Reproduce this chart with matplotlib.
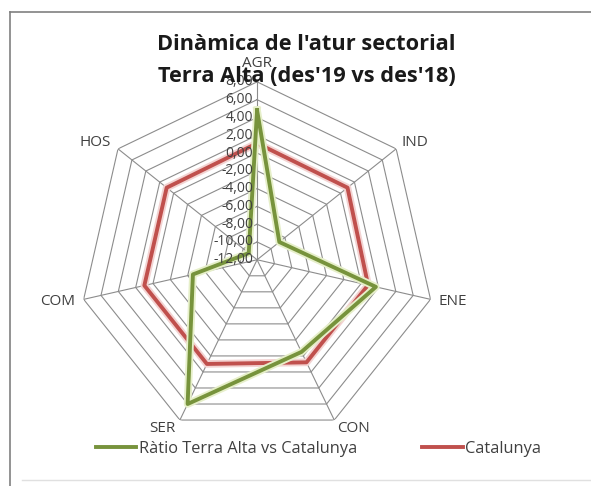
import numpy as np
import matplotlib
matplotlib.use("Agg")
from matplotlib import pyplot as plt
import matplotlib.patheffects as pe
from matplotlib.lines import Line2D

plt.rcParams['font.family'] = ['Open Sans', 'DejaVu Sans']

# data
sectors = ['AGR', 'IND', 'ENE', 'CON', 'SER', 'COM', 'HOS']
ratio_terra_alta = [4.8, -8.8, 1.7, -0.5, 6.0, -4.6, -10.8]
catalunya = [1.1, 1.0, 0.8, 0.8, 1.0, 1.0, 1.0]
ring_values = [-12, -10, -8, -6, -4, -2, 0, 2, 4, 6, 8]
ring_labels = ['-12,00', '-10,00', '-8,00', '-6,00', '-4,00', '-2,00',
               '0,00', '2,00', '4,00', '6,00', '8,00']
title_lines = ["Dinàmica de l'atur sectorial", "Terra Alta (des'19 vs des'18)"]

# where each sector name sits relative to its outer vertex (pixels)
label_place = {
    'AGR': ((0, 18), 'center'),
    'IND': ((5, 6), 'left'),
    'ENE': ((8, -2), 'left'),
    'CON': ((3, -8), 'left'),
    'SER': ((-4, -8), 'right'),
    'COM': ((-9, -2), 'right'),
    'HOS': ((-7, 6), 'right'),
}

n = len(sectors)
angles = np.arange(n) * 2 * np.pi / n
closed = np.append(angles, angles[0])

fig = plt.figure(figsize=(5.91, 4.86), dpi=100)
ax = fig.add_axes([0.134, 0.099, 0.602, 0.733], projection='polar')
ax.set_theta_zero_location('N')
ax.set_theta_direction(-1)
ax.set_ylim(-12, 8)
ax.grid(False)
ax.spines['polar'].set_visible(False)
ax.set_yticks([])
ax.set_xticks([])

grid_col = '#8c8c8c'
# heptagon rings
for r in ring_values[1:]:
    ax.plot(closed, [r] * (n + 1), color=grid_col, lw=0.8, zorder=1)
# spokes
for a in angles:
    ax.plot([a, a], [-12, 8], color=grid_col, lw=0.8, zorder=1)

# radial labels along the AGR axis
for r, lab in zip(ring_values, ring_labels):
    ax.annotate(lab, xy=(0, r), xytext=(-4, 0), textcoords='offset pixels',
                ha='right', va='center', fontsize=10, color='#404040', zorder=6)

# sector names
for a, name in zip(angles, sectors):
    off, ha = label_place[name]
    ax.annotate(name, xy=(a, 8), xytext=off, textcoords='offset pixels',
                ha=ha, va='center', fontsize=11, color='#404040',
                annotation_clip=False)

green = '#77933C'
red = '#C0504D'
ax.plot(closed, np.append(catalunya, catalunya[0]),
        color=red, lw=2.8, zorder=3,
        path_effects=[pe.Stroke(linewidth=5.5, foreground='#f3d3d2'), pe.Normal()])
ax.plot(closed, np.append(ratio_terra_alta, ratio_terra_alta[0]),
        color=green, lw=2.8, zorder=4,
        path_effects=[pe.Stroke(linewidth=5.5, foreground='#e6efc9'), pe.Normal()])

for line, ypix in zip(title_lines, [45, 77]):
    fig.text(0.519, 1 - ypix / 486, line, ha='center', va='center',
             fontsize=15.7, fontweight='bold', color='#1a1a1a', zorder=7)

handles = [Line2D([], [], color=green, lw=2.8),
           Line2D([], [], color=red, lw=2.8)]
fig.legend(handles, ['Ràtio Terra Alta vs Catalunya', 'Catalunya'],
           loc='center', bbox_to_anchor=(0.539, 1 - 449 / 486), ncol=2,
           frameon=False, fontsize=11.8, handlelength=2.45, handletextpad=0.15,
           columnspacing=4.0, labelcolor='#404040')

# chart border
fig.add_artist(Line2D([10 / 591, 10 / 591], [0, 1 - 12 / 486], color='#808080', lw=1.2,
                      transform=fig.transFigure))
fig.add_artist(Line2D([10 / 591, 1], [1 - 12 / 486, 1 - 12 / 486], color='#808080', lw=1.2,
                      transform=fig.transFigure))
fig.add_artist(Line2D([22 / 591, 1], [1 - 480 / 486, 1 - 480 / 486], color='#e0e0e0', lw=1.0,
                      transform=fig.transFigure))

fig.savefig('out.png', dpi=100)
